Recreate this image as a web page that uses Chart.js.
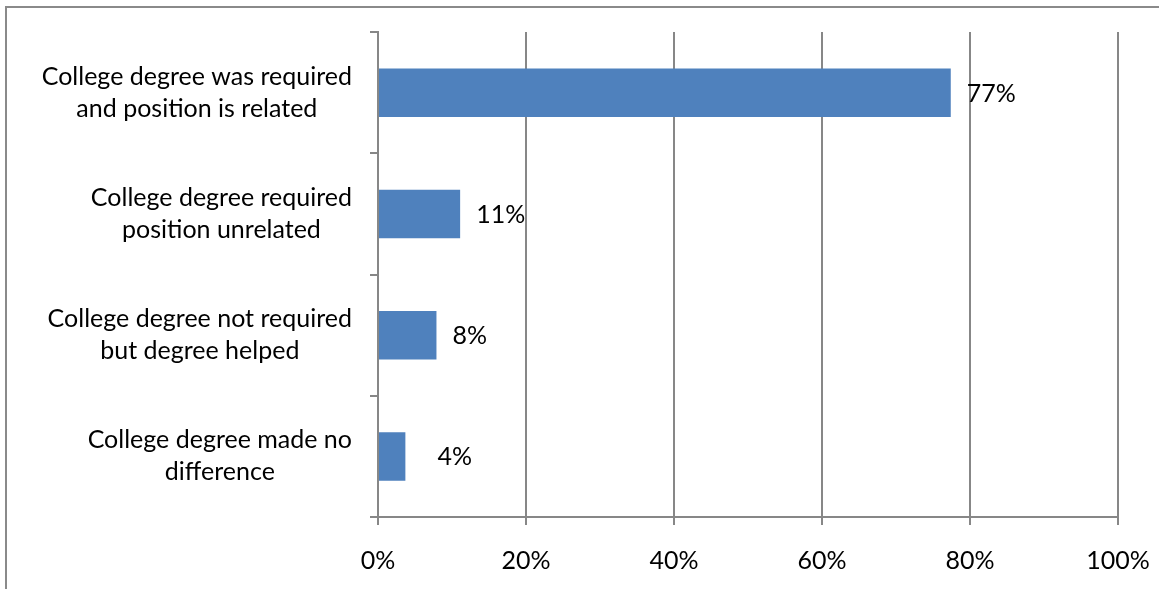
<!DOCTYPE html>
<html>
<head>
<meta charset="utf-8">
<script src="https://cdn.jsdelivr.net/npm/chart.js@4"></script>
<style>
  html, body { margin: 0; padding: 0; background: #fff; overflow: hidden; }
  #wrap { position: relative; width: 1159px; height: 589px; }
  #frame { position: absolute; left: 5px; top: 6px; width: 1200px; height: 700px;
           border-left: 2px solid #8a8a8a; border-top: 2px solid #8a8a8a; pointer-events: none; }
  canvas { position: absolute; left: 0; top: 0; }
</style>
</head>
<body>
<div id="wrap">
  <canvas id="c" width="1159" height="589"></canvas>
  <div id="frame"></div>
</div>
<script>
const categories = [
  ["College degree was required", "and position is related"],
  ["College degree required", "position unrelated"],
  ["College degree not required", "but degree helped"],
  ["College degree made no", "difference"]
];
const values = [77.4, 11.1, 7.9, 3.7];
const xTicks = [0, 20, 40, 60, 80, 100];

const FONT = '"Lato", "Open Sans", sans-serif';
const FSIZE = 25;
const GRID = '#878787';
const labelNudge = [0, 0, 0, 16];

const catLabels = {
  id: 'catLabels',
  afterDraw(chart) {
    const ctx = chart.ctx, ys = chart.scales.y;
    ctx.save();
    ctx.font = FSIZE + 'px ' + FONT;
    ctx.fillStyle = '#000';
    ctx.textBaseline = 'middle';
    ctx.textAlign = 'center';
    const right = ys.right - 26;
    const lh = 32;
    categories.forEach((lines, i) => {
      const cy = ys.getPixelForTick(i);
      const w = Math.max(...lines.map(l => ctx.measureText(l).width));
      const cx = right - w / 2;
      lines.forEach((l, j) => {
        ctx.fillText(l, cx, cy + (j - (lines.length - 1) / 2) * lh);
      });
    });
    ctx.restore();
  }
};

const valueLabels = {
  id: 'valueLabels',
  afterDatasetsDraw(chart) {
    const ctx = chart.ctx, xs = chart.scales.x, ys = chart.scales.y;
    ctx.save();
    ctx.font = FSIZE + 'px ' + FONT;
    ctx.fillStyle = '#000';
    ctx.textBaseline = 'middle';
    ctx.textAlign = 'left';
    values.forEach((v, i) => {
      ctx.fillText(Math.round(v) + '%', xs.getPixelForValue(v) + 16 + labelNudge[i], ys.getPixelForTick(i) + 1);
    });
    ctx.restore();
  }
};

new Chart(document.getElementById('c'), {
  type: 'bar',
  data: {
    labels: categories.map(l => l.join(' ')),
    datasets: [{
      data: values,
      backgroundColor: '#4F81BD',
      borderWidth: 0,
      barPercentage: 0.4,
      categoryPercentage: 1.0
    }]
  },
  options: {
    indexAxis: 'y',
    responsive: false,
    animation: false,
    devicePixelRatio: 1,
    layout: { padding: { top: 32, right: 41, left: 0, bottom: 0 } },
    plugins: { legend: { display: false }, tooltip: { enabled: false } },
    scales: {
      x: {
        min: 0, max: 100,
        afterBuildTicks(scale) { scale.ticks = xTicks.map(v => ({ value: v })); },
        afterFit(scale) { scale.height = 72; scale.paddingLeft = 0; scale.paddingRight = 0; },
        grid: { color: GRID, lineWidth: 2, tickLength: 8, drawTicks: true },
        border: { color: GRID, width: 2 },
        ticks: {
          color: '#000',
          font: { family: FONT, size: FSIZE },
          padding: 21,
          maxRotation: 0,
          callback: v => v + '%'
        }
      },
      y: {
        afterFit(scale) { scale.width = 378; scale.paddingTop = 0; scale.paddingBottom = 0; },
        grid: { color: GRID, lineWidth: 2, tickLength: 8, drawOnChartArea: false, drawTicks: true, offset: true },
        border: { color: GRID, width: 2 },
        ticks: { display: false }
      }
    }
  },
  plugins: [catLabels, valueLabels]
});
</script>
</body>
</html>
